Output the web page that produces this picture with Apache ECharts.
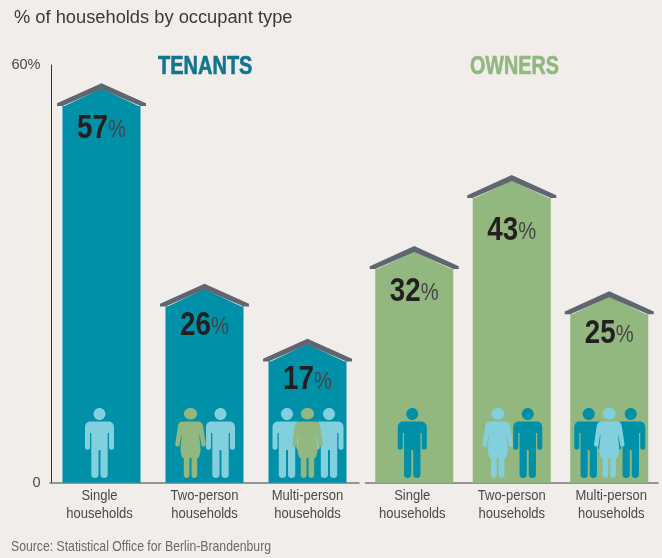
<!DOCTYPE html>
<html><head><meta charset="utf-8">
<style>html,body{margin:0;padding:0;background:#F0EDEA}#c{width:662px;height:558px}</style>
<script src="https://cdn.jsdelivr.net/npm/echarts@6/dist/echarts.min.js"></script>
</head><body><div id="c"></div>
<script>
// Data
const categories = ['Single\nhouseholds', 'Two-person\nhouseholds', 'Multi-person\nhouseholds'];
const tenantShares = [57, 26, 17];          // printed on the bars
const ownerShares = [32, 43, 25];           // printed on the bars
const tenantBarHeights = [54.1, 25.3, 17.4]; // eave height read against the 0-60 axis
const ownerBarHeights = [30.7, 40.9, 24.2];  // eave height read against the 0-60 axis
const axisTicks = [0, 60];

// Household make-up icons: M man, W woman; later entries are painted on top
const householdIcons = [['M'], ['W', 'M'], ['M', 'M', 'W']];

const TEAL = '#0090A8', GREEN = '#92B77F', SKY = '#82CFDD', ROOF = '#5F6670';
const SANS = '"Liberation Sans",sans-serif';

const MAN = 'M0 0C3.3 0 6 2.7 6 6C6 9.3 3.3 12 0 12C-3.3 12 -6 9.3 -6 6C-6 2.7 -3.3 0 0 0Z' +
  'M-9 13.5L9 13.5C12.5 13.5 14.5 16 14.5 19L14.5 39.5C14.5 42.5 9.5 42.5 9.5 39.5L9.5 25L8.2 25L8.2 67C8.2 71 1 71 1 67L1 42L-1 42L-1 67C-1 71 -8.2 71 -8.2 67L-8.2 25L-9.5 25L-9.5 39.5C-9.5 42.5 -14.5 42.5 -14.5 39.5L-14.5 19C-14.5 16 -12.5 13.5 -9 13.5Z';
const WOMAN = 'M0 0C3.7 0 6.6 2.5 6.6 5.8C6.6 9.1 3.7 11.6 0 11.6C-3.7 11.6 -6.6 9.1 -6.6 5.8C-6.6 2.5 -3.7 0 0 0Z' +
  'M-7 13.5L7 13.5C10.5 13.5 12 15 12.6 18L15.3 36.5C15.6 38.5 11.6 39.5 11 37.5L9 26C8.5 30 10 36 10 41C10 45 9 48 8 50L6.7 50L6.7 67C6.7 71 1 71 1 67L1 50L-1 50L-1 67C-1 71 -6.7 71 -6.7 67L-6.7 50L-8 50C-9 48 -10 45 -10 41C-10 36 -8.5 30 -9 26L-11 37.5C-11.6 39.5 -15.6 38.5 -15.3 36.5L-12.6 18C-12 15 -10.5 13.5 -7 13.5Z';

const iconSlots = [[-2], [-14, 16], [-20.5, 21.5, 0]];
const labelDrops = { tenants: [19, 15.5, 15], owners: [19, 29, 16] };
const captionNudges = { tenants: [-2, 0, 0], owners: [-2, 0, 2] };
const CONDENSE = 0.84;

function houseSeries(name, gridIdx, shares, heights, manColor, womanColor, bodyColor, drops, nudges) {
  return {
    type: 'custom', name: name + ' roofs', xAxisIndex: gridIdx, yAxisIndex: gridIdx, z: 5,
    data: heights.map((h, i) => [i, h, shares[i]]),
    encode: { x: 0, y: 1 },
    renderItem(params, api) {
      const i = api.value(0);
      const [cx, eave] = api.coord([i, api.value(1)]);
      const base = api.coord([i, 0])[1];
      const kids = [
        { type: 'polygon', shape: { points: [[cx - 39, eave + 1], [cx, eave - 17.5], [cx + 39, eave + 1]] }, style: { fill: bodyColor } },
        { type: 'polygon', shape: { points: [[cx - 44.5, eave - 2.8], [cx, eave - 22.9], [cx + 44.5, eave - 2.8], [cx + 44.5, eave], [cx + 39, eave], [cx, eave - 17], [cx - 39, eave], [cx - 44.5, eave]] }, style: { fill: ROOF } },
        { type: 'text', x: cx, y: eave + drops[i] + 3.5, scaleX: CONDENSE, style: {
            text: '{a|' + api.value(2) + '}{b|%}', align: 'center', verticalAlign: 'middle',
            rich: { a: { font: 'bold 33px ' + SANS, fill: '#231F20' }, b: { font: '24px ' + SANS, fill: '#444', padding: [4, 0, 0, 0] } } } },
        { type: 'text', x: cx + nudges[i], y: base + 4, scaleX: CONDENSE, style: {
            text: categories[i], align: 'center', verticalAlign: 'top', font: '15.5px ' + SANS, lineHeight: 18, fill: '#4A4A4A' } }
      ];
      householdIcons[i].forEach((kind, k) => {
        const woman = kind === 'W';
        kids.push({ type: 'path',
          shape: { pathData: woman ? WOMAN : MAN, x: cx + iconSlots[i][k] - (woman ? 15.3 : 14.5), y: base - 74.7, width: woman ? 30.6 : 29, height: 70 },
          style: { fill: woman ? womanColor : manColor } });
      });
      return { type: 'group', children: kids };
    }
  };
}

const xAxisBase = { type: 'category', data: categories, axisTick: { show: false },
  axisLine: { onZero: false, lineStyle: { color: '#77777A', width: 1.5 } },
  axisLabel: { show: false } };

const chart = echarts.init(document.getElementById('c'), null, { renderer: 'canvas' });
chart.setOption({
  animation: false,
  backgroundColor: '#F0EDEA',
  graphic: [
    { type: 'text', x: 14, y: 9, style: { text: '% of households by occupant type', font: '18.3px ' + SANS, fill: '#3A3A3A' } },
    { type: 'text', x: 158, y: 55, scaleX: 0.8, style: { text: 'TENANTS', font: 'bold 25px ' + SANS, fill: '#10758F', stroke: '#10758F', lineWidth: 0.6 } },
    { type: 'text', x: 470, y: 55, scaleX: 0.79, style: { text: 'OWNERS', font: 'bold 25px ' + SANS, fill: GREEN, stroke: GREEN, lineWidth: 0.6 } },
    { type: 'text', x: 11, y: 539, scaleX: 0.815, style: { text: 'Source: Statistical Office for Berlin-Brandenburg', font: '15px ' + SANS, fill: '#6A6A6A' } }
  ],
  grid: [
    { left: 50, top: 65, width: 309, height: 417.7 },
    { left: 365.5, top: 65, width: 292.5, height: 417.7 }
  ],
  xAxis: [
    Object.assign({ gridIndex: 0 }, xAxisBase),
    Object.assign({ gridIndex: 1 }, xAxisBase)
  ],
  yAxis: [
    { gridIndex: 0, type: 'value', min: axisTicks[0], max: axisTicks[1], interval: axisTicks[1], offset: -1.5,
      splitLine: { show: false }, axisTick: { show: false },
      axisLine: { show: true, lineStyle: { color: '#333', width: 1 } },
      axisLabel: { margin: 11, color: '#4A4A4A', fontFamily: SANS, fontSize: 14.5, formatter: v => v ? v + '%' : '0' } },
    { gridIndex: 1, type: 'value', min: axisTicks[0], max: axisTicks[1], show: false, splitLine: { show: false } }
  ],
  series: [
    { type: 'bar', name: 'Tenants', xAxisIndex: 0, yAxisIndex: 0, data: tenantBarHeights, barWidth: 78, itemStyle: { color: TEAL } },
    { type: 'bar', name: 'Owners', xAxisIndex: 1, yAxisIndex: 1, data: ownerBarHeights, barWidth: 78, itemStyle: { color: GREEN } },
    houseSeries('Tenants', 0, tenantShares, tenantBarHeights, SKY, GREEN, TEAL, labelDrops.tenants, captionNudges.tenants),
    houseSeries('Owners', 1, ownerShares, ownerBarHeights, TEAL, SKY, GREEN, labelDrops.owners, captionNudges.owners)
  ]
});
</script></body></html>
